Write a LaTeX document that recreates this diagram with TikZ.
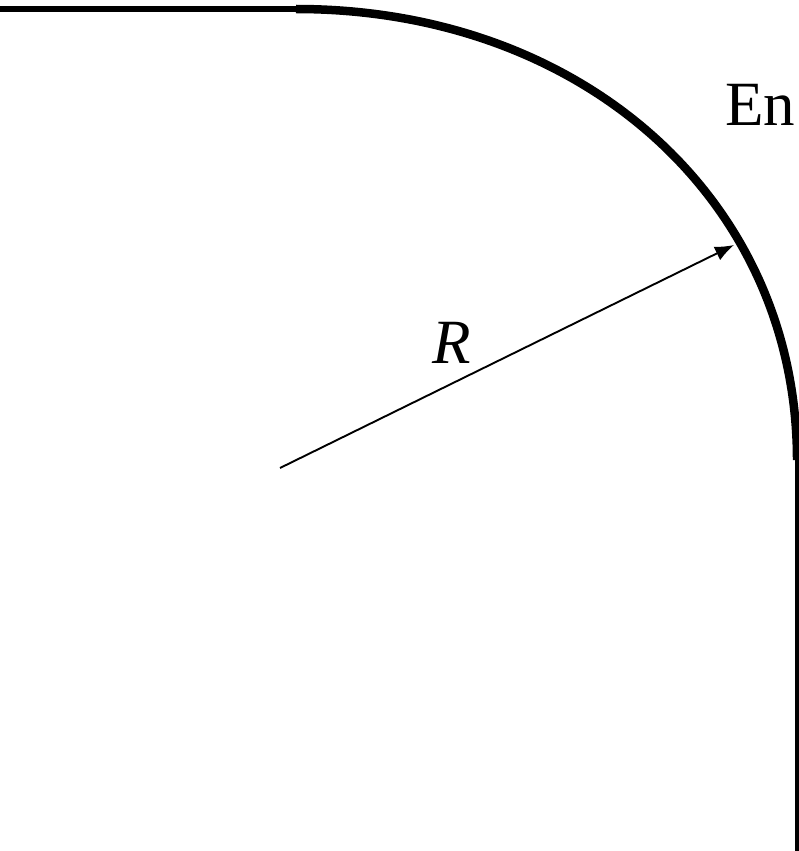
\documentclass[tikz,border=0pt]{standalone}
\usepackage{fontspec}
\setmainfont{Liberation Serif}
\usetikzlibrary{arrows.meta}
\begin{document}
\begin{tikzpicture}[x=1pt,y=-1pt,
  lbl/.style={inner sep=0pt,outer sep=0pt,anchor=base west,font=\fontsize{63}{72}\selectfont},
  wallline/.style={line width=6.5pt,line cap=butt},
  arcline/.style={line width=8.5pt,line cap=butt},
  radline/.style={line width=1.9pt,-{Latex[length=19pt,width=15pt]}}]
\useasboundingbox (0,0) rectangle (799,851);
\clip (0,0) rectangle (799,851);
\coordinate (h0) at (-5,9);
\coordinate (a0) at (296,9);
\coordinate (a1) at (797,460);
\coordinate (v1) at (797,851);
\coordinate (ctr) at (280,468);
\coordinate (tip) at (734,245);
\draw[wallline] (h0) -- (a0);
\draw[arcline] (a0) .. controls (584,9) and (797,201) .. (a1);
\draw[line width=5pt] (a1) -- (v1);
\draw[radline] (ctr) -- (tip);
\node[lbl] (en) at (725,125) {En};
\node[lbl] (r) at (432,363) {\itshape R};
\end{tikzpicture}
\end{document}
